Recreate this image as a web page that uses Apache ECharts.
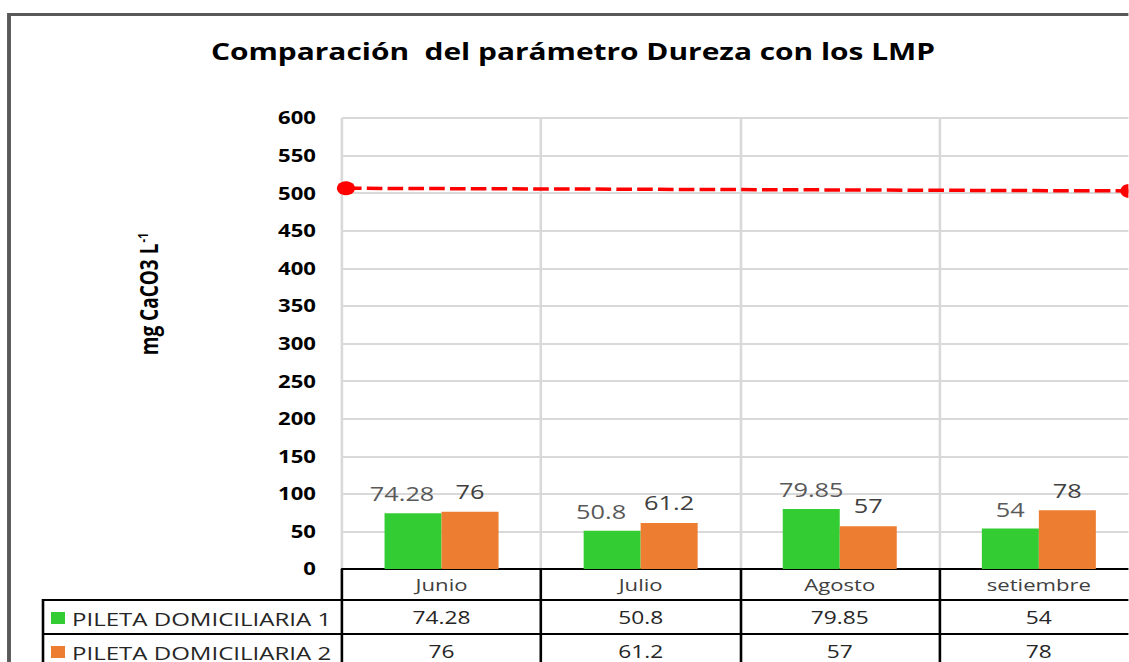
<!DOCTYPE html>
<html>
<head>
<meta charset="utf-8">
<style>
  html, body { margin: 0; padding: 0; background: #fff; overflow: hidden; }
  #chart { height: 662px; transform-origin: 0 0; }
</style>
<script src="https://cdn.jsdelivr.net/npm/echarts@6/dist/echarts.min.js"></script>
</head>
<body>
<div id="chart"></div>
<script>
// data
const months = ['Junio', 'Julio', 'Agosto', 'setiembre'];
const seriesNames = ['PILETA DOMICILIARIA 1', 'PILETA DOMICILIARIA 2'];
const pileta1 = [74.28, 50.8, 79.85, 54];
const pileta2 = [76, 61.2, 57, 78];
const lmpX = [0.02, 3.955];
const lmpY = [506.5, 503];
const yTicks = [0, 600, 50]; // min, max, step

// the original picture is stretched sideways, so draw narrow and stretch
const S = 1.3;
const W = 1129 / S;
const px = v => v / S;

const FONT = 'Open Sans';
const colors = ['#33CC33', '#ED7D31'];
// the first two green labels were dragged a bit to the left in the original
const greenLabelNudge = [-11, -11, 0, 0];

const el = document.getElementById('chart');
el.style.width = W + 'px';
el.style.transform = 'scaleX(' + S + ')';

let myChart = echarts.init(el, null, { renderer: 'svg' });

const rowAxis = (values, offset) => ({
    type: 'category',
    position: 'bottom',
    offset: offset,
    data: values.map(String),
    axisLine: { show: true, lineStyle: { color: '#000', width: 2 } },
    axisTick: { show: false },
    axisLabel: { margin: 8, fontFamily: FONT, fontSize: 17.5, color: '#262626' },
    splitLine: { show: false }
});

let option = {
    animation: false,
    color: colors,
    grid: {
        left: px(342), top: 118, bottom: 93, right: W - px(1139),
        containLabel: false, outerBoundsMode: 'none'
    },
    xAxis: [
        {
            type: 'category',
            data: months,
            position: 'bottom',
            axisLine: { show: true, lineStyle: { color: '#000', width: 2 } },
            axisTick: { show: true, length: 100, lineStyle: { color: '#000', width: 2 } },
            axisLabel: { margin: 7, fontFamily: FONT, fontSize: 17, color: '#404040' },
            splitLine: { show: true, lineStyle: { color: '#d9d9d9', width: 2 } }
        },
        rowAxis(pileta1, 31),
        rowAxis(pileta2, 65),
        { type: 'value', min: 0, max: 4, show: false }
    ],
    yAxis: {
        type: 'value',
        min: yTicks[0],
        max: yTicks[1],
        interval: yTicks[2],
        axisLine: { show: false },
        axisTick: { show: false },
        axisLabel: { margin: px(26), fontFamily: FONT, fontSize: 17, fontWeight: 'bold', color: '#000' },
        splitLine: { lineStyle: { color: '#d9d9d9', width: 2 } }
    },
    series: [
        {
            name: seriesNames[0],
            type: 'bar',
            data: pileta1.map((v, i) => ({ value: v, label: { offset: [px(greenLabelNudge[i]), 0] } })),
            barWidth: px(57),
            barGap: '0%',
            label: { show: true, position: 'top', distance: 9, fontFamily: FONT, fontSize: 19.5, color: '#595959' }
        },
        {
            name: seriesNames[1],
            type: 'bar',
            data: pileta2,
            barWidth: px(57),
            barGap: '0%',
            label: { show: true, position: 'top', distance: 10, fontFamily: FONT, fontSize: 19.5, color: '#404040' }
        },
        {
            name: 'LMP',
            type: 'line',
            xAxisIndex: 3,
            data: lmpX.map((x, i) => [x, lmpY[i]]),
            symbol: 'circle',
            symbolSize: 14,
            itemStyle: { color: '#FF0000' },
            lineStyle: { color: '#FF0000', width: 3.5, type: [12, 4] },
            z: 5
        }
    ],
    graphic: [
        // outer chart border
        { type: 'rect', shape: { x: px(9), y: 14.5, width: W, height: 700 }, style: { fill: null, stroke: '#595959', lineWidth: 3 }, silent: true },
        { type: 'text', x: px(573), y: 51, style: { text: 'Comparación  del parámetro Dureza con los LMP', font: 'bold 23px "Open Sans"', fill: '#000', textAlign: 'center', textVerticalAlign: 'middle' } },
        {
            type: 'text', x: px(148), y: 294, rotation: Math.PI / 2,
            style: {
                text: '{a|mg CaCO3 L}{s|-1}',
                textAlign: 'center', textVerticalAlign: 'middle',
                rich: {
                    a: { fontFamily: FONT, fontSize: 19, fontWeight: 'bold', fill: '#000' },
                    s: { fontFamily: FONT, fontSize: 11, fontWeight: 'bold', fill: '#000', verticalAlign: 'top', padding: [0, 0, 9, 1] }
                }
            }
        },
        // table row header borders
        { type: 'line', shape: { x1: px(42), y1: 600, x2: px(342), y2: 600 }, style: { stroke: '#000', lineWidth: 2 } },
        { type: 'line', shape: { x1: px(42), y1: 634, x2: px(342), y2: 634 }, style: { stroke: '#000', lineWidth: 2 } },
        { type: 'line', shape: { x1: px(43), y1: 599, x2: px(43), y2: 670 }, style: { stroke: '#000', lineWidth: 2 } }
    ].concat(seriesNames.flatMap((name, i) => [
        { type: 'rect', shape: { x: px(51), y: 612 + i * 34, width: px(14), height: 12 }, style: { fill: colors[i] } },
        { type: 'text', x: px(72), y: 619 + i * 34, style: { text: name, font: '18.5px "Open Sans"', fill: '#262626', textVerticalAlign: 'middle' } }
    ]))
};

myChart.setOption(option);
</script>
</body>
</html>
